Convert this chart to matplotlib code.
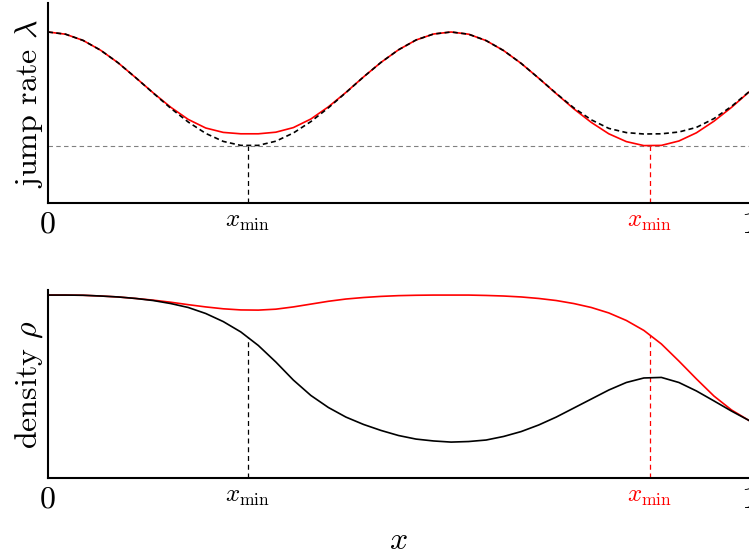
import numpy as np
from matplotlib import pyplot as plt

plt.rcParams['font.family'] = 'serif'
plt.rcParams['font.serif'] = ['cmr10']
plt.rcParams['mathtext.fontset'] = 'cm'
plt.rcParams['axes.unicode_minus'] = False

# positions along the channel
x = [0.0, 0.025, 0.05, 0.075, 0.1, 0.125, 0.15, 0.175, 0.2, 0.225,
     0.25, 0.275, 0.3, 0.325, 0.35, 0.375, 0.4, 0.425, 0.45, 0.475,
     0.5, 0.525, 0.55, 0.575, 0.6, 0.625, 0.65, 0.675, 0.7, 0.725,
     0.75, 0.775, 0.8, 0.825, 0.85, 0.875, 0.9, 0.925, 0.95, 0.975, 1.0]

# jump rate, black dashed (deep minimum on the left)
lam_black = [0.855, 0.844, 0.813, 0.764, 0.701, 0.627, 0.550, 0.474, 0.405, 0.348,
             0.308, 0.288, 0.288, 0.309, 0.350, 0.407, 0.476, 0.552, 0.630, 0.703,
             0.766, 0.815, 0.845, 0.855, 0.844, 0.812, 0.762, 0.698, 0.624, 0.548,
             0.476, 0.416, 0.373, 0.352, 0.345, 0.346, 0.355, 0.378, 0.422, 0.483, 0.556]

# jump rate, red (deep minimum on the right)
lam_red = [0.855, 0.844, 0.813, 0.764, 0.701, 0.627, 0.551, 0.479, 0.418, 0.375,
           0.353, 0.346, 0.346, 0.354, 0.377, 0.420, 0.481, 0.553, 0.630, 0.703,
           0.766, 0.815, 0.845, 0.855, 0.844, 0.812, 0.762, 0.698, 0.624, 0.547,
           0.471, 0.403, 0.346, 0.307, 0.287, 0.288, 0.310, 0.351, 0.409, 0.478, 0.555]

# density
rho_black = [0.973, 0.973, 0.972, 0.968, 0.963, 0.955, 0.944, 0.928, 0.907, 0.875,
             0.832, 0.777, 0.705, 0.617, 0.521, 0.439, 0.375, 0.324, 0.285, 0.253,
             0.226, 0.207, 0.197, 0.191, 0.194, 0.202, 0.221, 0.247, 0.282, 0.324,
             0.372, 0.420, 0.468, 0.508, 0.532, 0.535, 0.508, 0.463, 0.410, 0.356, 0.306]

rho_red = [0.973, 0.973, 0.972, 0.968, 0.963, 0.955, 0.946, 0.935, 0.922, 0.910,
           0.900, 0.894, 0.893, 0.898, 0.910, 0.925, 0.940, 0.952, 0.960, 0.966,
           0.970, 0.972, 0.973, 0.973, 0.973, 0.971, 0.968, 0.963, 0.955, 0.944,
           0.928, 0.907, 0.878, 0.838, 0.785, 0.713, 0.622, 0.527, 0.436, 0.362, 0.306]

x_min_black = 0.2853
x_min_red = 0.8588
lam_min = 0.285
rho_at_min_black = 0.748
rho_at_min_red = 0.760

tick_pos = [0, x_min_black, x_min_red, 1]
tick_lab = ['0', r'$x_{\min}$', r'$x_{\min}$', '1']

fs = 23
fs_xmin = 18

fig = plt.figure(figsize=(7.49, 5.57), dpi=100)
ax1 = fig.add_axes([48/749, 1 - 203/557, 1 - 48/749, 200/557])
ax2 = fig.add_axes([48/749, 1 - 478/557, 1 - 48/749, 188/557])

for ax in (ax1, ax2):
    ax.set_xlim(0, 1)
    ax.set_ylim(0, 1)
    ax.spines['top'].set_visible(False)
    ax.spines['right'].set_visible(False)
    ax.spines['left'].set_linewidth(1.5)
    ax.spines['bottom'].set_linewidth(1.5)
    ax.set_yticks([])
    ax.set_xticks(tick_pos)
    ax.set_xticklabels(tick_lab, fontsize=fs)
    ax.tick_params(axis='x', length=0, pad=6)
    labels = ax.get_xticklabels()
    labels[1].set_fontsize(fs_xmin)
    labels[2].set_fontsize(fs_xmin)
    labels[2].set_color('red')

# top panel
ax1.axhline(lam_min, color='gray', lw=0.8, ls=(0, (4, 3)))
ax1.plot([x_min_black, x_min_black], [0, lam_min], color='black', lw=0.9, ls=(0, (4, 3)))
ax1.plot([x_min_red, x_min_red], [0, lam_min], color='red', lw=0.9, ls=(0, (4, 3)))
ax1.plot(x, lam_red, color='red', lw=1.2)
ax1.plot(x, lam_black, color='black', lw=1.2, ls=(0, (3, 2)))
ax1.set_ylabel(r'jump rate $\lambda$', fontsize=fs, labelpad=2)

# bottom panel
ax2.plot([x_min_black, x_min_black], [0, rho_at_min_black], color='black', lw=0.9, ls=(0, (4, 3)))
ax2.plot([x_min_red, x_min_red], [0, rho_at_min_red], color='red', lw=0.9, ls=(0, (4, 3)))
ax2.plot(x, rho_red, color='red', lw=1.2)
ax2.plot(x, rho_black, color='black', lw=1.2)
ax2.set_ylabel(r'density $\rho$', fontsize=fs, labelpad=2)
ax2.set_xlabel(r'$x$', fontsize=fs, labelpad=10)

fig.savefig('out.png', dpi=100)
